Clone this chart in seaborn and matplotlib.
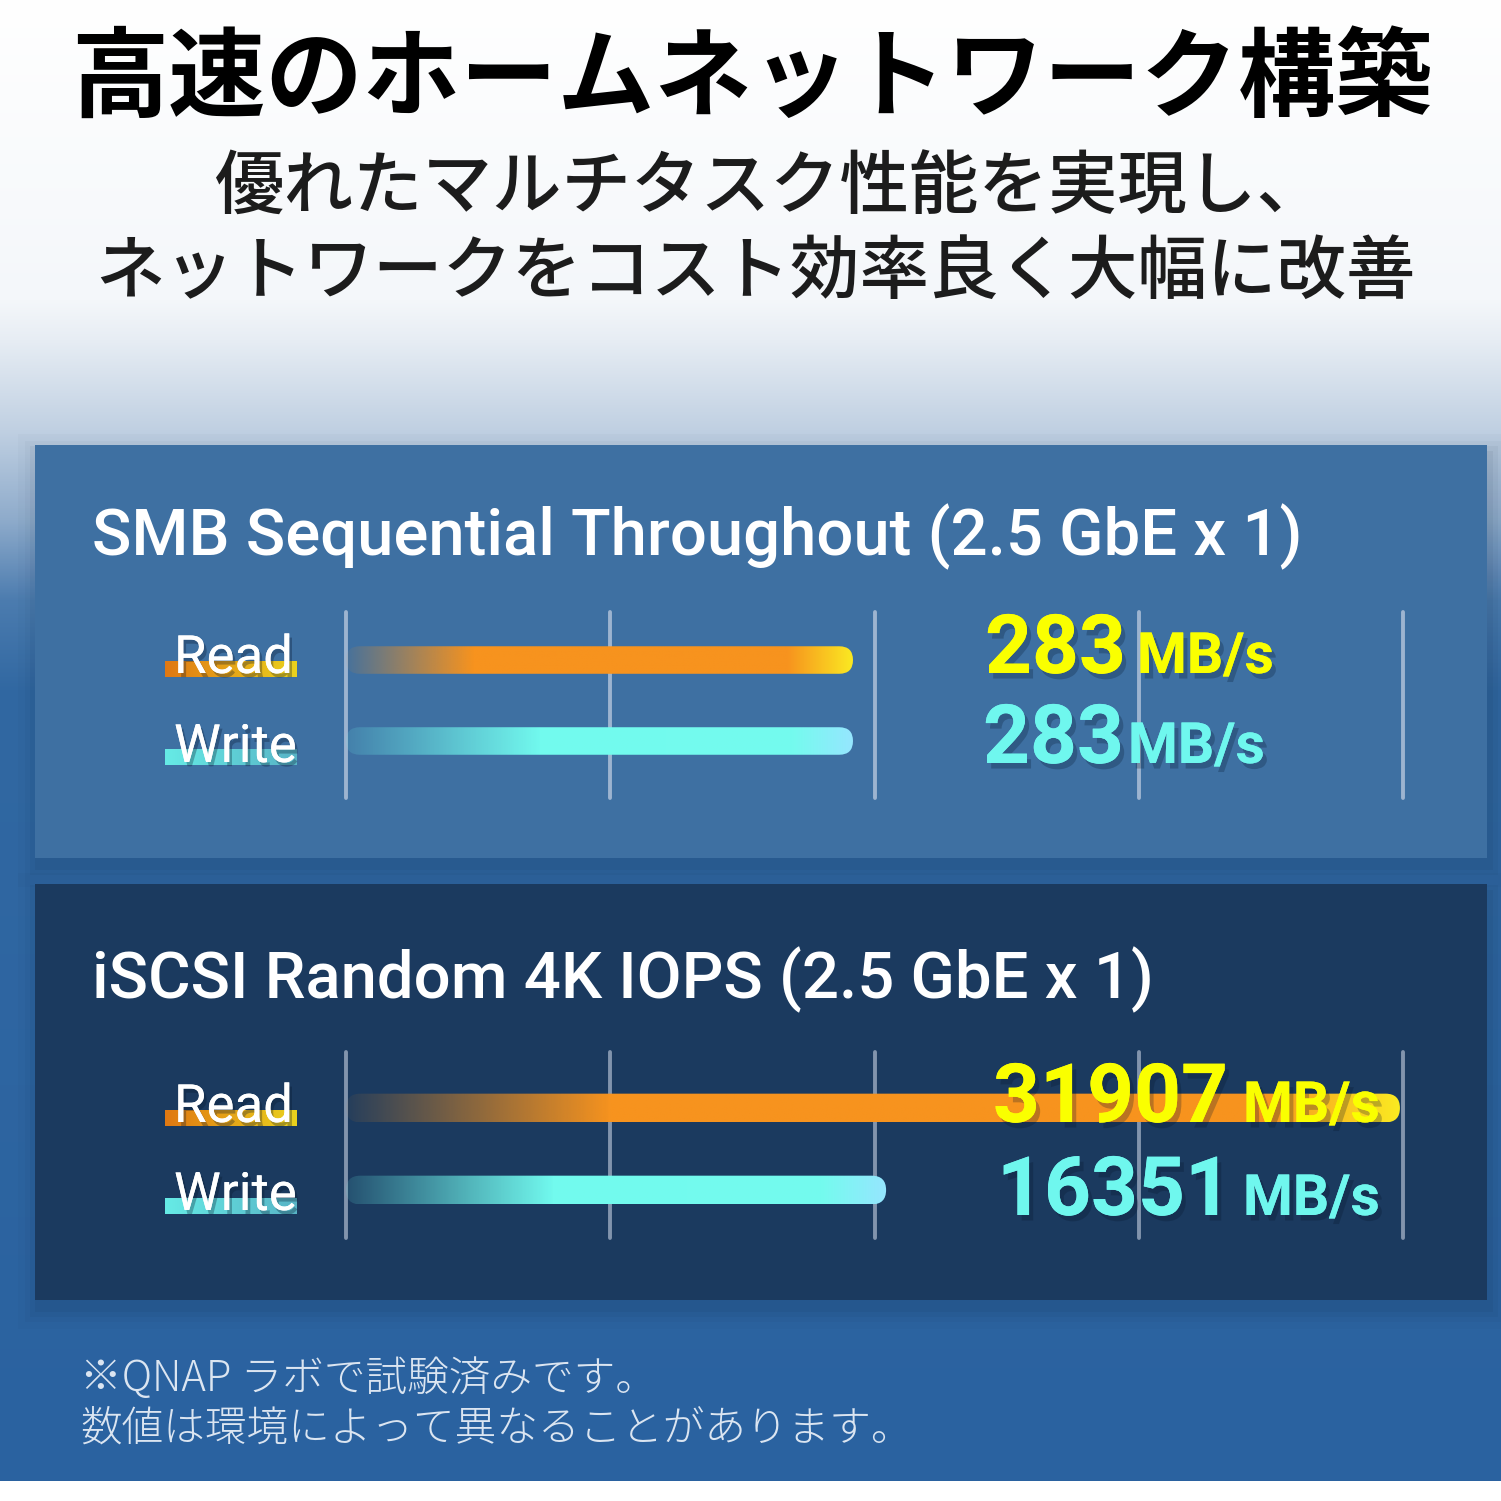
import numpy as np
import pandas as pd
import matplotlib
matplotlib.use("Agg")
import matplotlib.pyplot as plt
import seaborn as sns
from matplotlib.patches import Rectangle, FancyBboxPatch
from matplotlib.colors import to_rgba
from matplotlib.transforms import IdentityTransform
import matplotlib.patheffects as pe

# ---------------- data ----------------
title = "高速のホームネットワーク構築"
subtitle_lines = ["優れたマルチタスク性能を実現し、", "ネットワークをコスト効率良く大幅に改善"]
panel_titles = ["SMB Sequential Throughout (2.5 GbE x 1)", "iSCSI Random 4K IOPS (2.5 GbE x 1)"]
metrics = ["Read", "Write"]
smb_values = [283, 283]
iscsi_values = [31907, 16351]
value_labels_smb = ["283", "283"]
value_labels_iscsi = ["31907", "16351"]
unit = "MB/s"
smb_grid = [0, 147.5, 295, 442.5, 590]
iscsi_grid = [0, 8000, 16000, 24000, 32000]
footnotes = ["※QNAP ラボで試験済みです。", "数値は環境によって異なることがあります。"]

# ---------------- setup ----------------
sns.set_theme(style="white")
plt.rcParams["font.family"] = ["Roboto", "Noto Sans CJK JP", "DejaVu Sans"]
JP = ["Noto Sans CJK JP", "DejaVu Sans"]

W = H = 1501
fig = plt.figure(figsize=(W / 100, H / 100), dpi=100, facecolor="white")

bg = fig.add_axes([0, 0, 1, 1], zorder=0)
bg.set_xlim(0, W)
bg.set_ylim(H, 0)
bg.axis("off")


def gradient_rgba(stops, n=512):
    pos = np.array([s for s, _ in stops], dtype=float)
    cols = np.array([to_rgba(c, a) for _, (c, a) in stops])
    t = np.linspace(pos[0], pos[-1], n)
    return np.stack([np.interp(t, pos, cols[:, k]) for k in range(4)], axis=1)


# background vertical gradient
bg_stops = [(0, ("#ffffff", 1)), (300, ("#f4f7fa", 1)), (340, ("#e7edf4", 1)),
            (430, ("#c0d0e2", 1)), (520, ("#8eabcb", 1)), (600, ("#4c7caf", 1)),
            (690, ("#3168a2", 1)), (1481, ("#2a62a0", 1))]
g = gradient_rgba(bg_stops, 1481)
bg.imshow(g[:, None, :], extent=(0, W, 1481, 0), aspect="auto",
          interpolation="bilinear", zorder=0)
bg.set_xlim(0, W)
bg.set_ylim(H, 0)


def panel(x, y, w, h, color):
    for d, a in [(20, 0.018), (13, 0.028), (8, 0.038), (3, 0.05)]:
        bg.add_patch(Rectangle((x - d + 3, y - d + 9), w + 2 * d, h + 2 * d,
                               color="#07182e", alpha=a, lw=0, zorder=1))
    bg.add_patch(Rectangle((x, y), w, h, color=color, lw=0, zorder=2))


panel(35, 445, 1452, 413, "#3e70a2")
panel(35, 884, 1452, 416, "#1b3a5f")

# title & subtitle
bg.text(752, 80, title, ha="center", va="center", fontsize=70, fontweight="bold",
        color="#000000", family=JP, zorder=5)
bg.text(770, 189, subtitle_lines[0], ha="center", va="center", fontsize=50,
        fontweight="medium", color="#1c1c1c", family=JP, zorder=5)
bg.text(755, 273, subtitle_lines[1], ha="center", va="center", fontsize=50,
        fontweight="medium", color="#1c1c1c", family=JP, zorder=5)

# panel titles
bg.text(92, 555, panel_titles[0], ha="left", va="baseline", fontsize=47,
        fontweight="medium", color="white", zorder=5)
bg.text(92, 998, panel_titles[1], ha="left", va="baseline", fontsize=47,
        fontweight="medium", color="white", zorder=5)

# label underlines + labels
read_ul = [(0, ("#e07812", 1)), (1, ("#ead21e", 1))]
write_ul = [(0, ("#66ebe6", 1)), (1, ("#58b4c6", 1))]
lab_shadow = [pe.withSimplePatchShadow(offset=(2, -3), shadow_rgbFace="#06162b", alpha=0.3),
              pe.Normal()]
for (ul_top_r, base_r, ul_top_w, base_w) in [(661, 673, 749, 762), (1110, 1122, 1198, 1210)]:
    bg.imshow(gradient_rgba(read_ul)[None, :, :], extent=(165, 297, ul_top_r + 16, ul_top_r),
              aspect="auto", interpolation="bilinear", zorder=4)
    bg.imshow(gradient_rgba(write_ul)[None, :, :], extent=(165, 297, ul_top_w + 16, ul_top_w),
              aspect="auto", interpolation="bilinear", zorder=4)
    bg.text(174, base_r, metrics[0], ha="left", va="baseline", fontsize=38,
            fontweight="normal", color="white", path_effects=lab_shadow, zorder=6)
    bg.text(174, base_w, metrics[1], ha="left", va="baseline", fontsize=38,
            fontweight="normal", color="white", path_effects=lab_shadow, zorder=6)
bg.set_xlim(0, W)
bg.set_ylim(H, 0)

# footnotes
bg.text(80, 1391, footnotes[0], ha="left", va="baseline", fontsize=30,
        fontweight="light", color="#dbe5f1", family=JP, zorder=5)
bg.text(80, 1441, footnotes[1], ha="left", va="baseline", fontsize=30,
        fontweight="light", color="#dbe5f1", family=JP, zorder=5)

# ---------------- bar charts ----------------
read_bar = [(0, ("#f7931e", 0.05)), (0.25, ("#f7931e", 1)), (0.87, ("#f7931e", 1)),
            (1.0, ("#fbea22", 1))]
write_bar = [(0, ("#70f8ee", 0.12)), (0.38, ("#72faee", 1)), (0.88, ("#74fbee", 1)),
             (1.0, ("#96e6ff", 1))]


def chart(values, grid, px_box, ylims, bar_w, grid_color, zo):
    left, top, right, bottom = px_box
    ax = fig.add_axes([left / W, 1 - bottom / H, (right - left) / W, (bottom - top) / H],
                      zorder=zo)
    df = pd.DataFrame({"metric": metrics, "value": values})
    sns.barplot(data=df, x="value", y="metric", orient="h", ax=ax, width=bar_w,
                color="white")
    ax.set_facecolor("none")
    ax.set_xlim(grid[0], grid[-1])
    ax.set_ylim(*ylims)
    ax.set_xticks(grid)
    ax.grid(axis="x", color=grid_color, lw=2.8)
    ax.grid(axis="y", visible=False)
    ax.set_axisbelow(True)
    for gl in ax.get_xgridlines():
        gl.set_clip_on(False)
    for s in ax.spines.values():
        s.set_visible(False)
    ax.tick_params(length=0, labelbottom=False, labelleft=False)
    ax.set_xlabel("")
    ax.set_ylabel("")
    for p, stops in zip(list(ax.patches), [read_bar, write_bar]):
        x0, y0, w, h = p.get_x(), p.get_y(), p.get_width(), p.get_height()
        p.set_visible(False)
        pts = ax.transData.transform([(x0, y0), (x0 + w, y0 + h)])
        xa, xb = sorted(pts[:, 0])
        ya, yb = sorted(pts[:, 1])
        clip = FancyBboxPatch((xa, ya), xb - xa, yb - ya,
                              boxstyle=f"round,pad=0,rounding_size={(yb - ya) / 2}",
                              transform=IdentityTransform())
        im = ax.imshow(gradient_rgba(stops)[None, :, :], extent=(x0, x0 + w, y0 + h, y0),
                       aspect="auto", interpolation="bilinear", zorder=3)
        im.set_clip_path(clip)
    ax.set_xlim(grid[0], grid[-1])
    ax.set_ylim(*ylims)
    return ax


chart(smb_values, smb_grid, (346, 612, 1403, 798), (1.704, -0.593), 0.34, "#9db4d0", 1)
chart(iscsi_values, iscsi_grid, (346, 1052, 1403, 1238), (1.585, -0.683), 0.35, "#8294ad", 1)

# ---------------- value labels (on top) ----------------
top = fig.add_axes([0, 0, 1, 1], zorder=5)
top.set_xlim(0, W)
top.set_ylim(H, 0)
top.axis("off")
val_shadow = [pe.withSimplePatchShadow(offset=(3, -4), shadow_rgbFace="#06162b", alpha=0.25),
              pe.Normal()]
YEL, CYA = "#faff00", "#6ff7ee"
entries = [
    (value_labels_smb[0], 985, 1137, 673, YEL),
    (value_labels_smb[1], 983, 1128, 763, CYA),
    (value_labels_iscsi[0], 993, 1243, 1122, YEL),
    (value_labels_iscsi[1], 997, 1243, 1215, CYA),
]
for txt, xn, xu, base, col in entries:
    top.text(xn, base, txt, ha="left", va="baseline", fontsize=59, fontweight="bold",
             color=col, path_effects=val_shadow)
    top.text(xu, base, unit, ha="left", va="baseline", fontsize=41, fontweight="bold",
             color=col, path_effects=val_shadow)

fig.savefig("out.png", dpi=100, facecolor="white")
